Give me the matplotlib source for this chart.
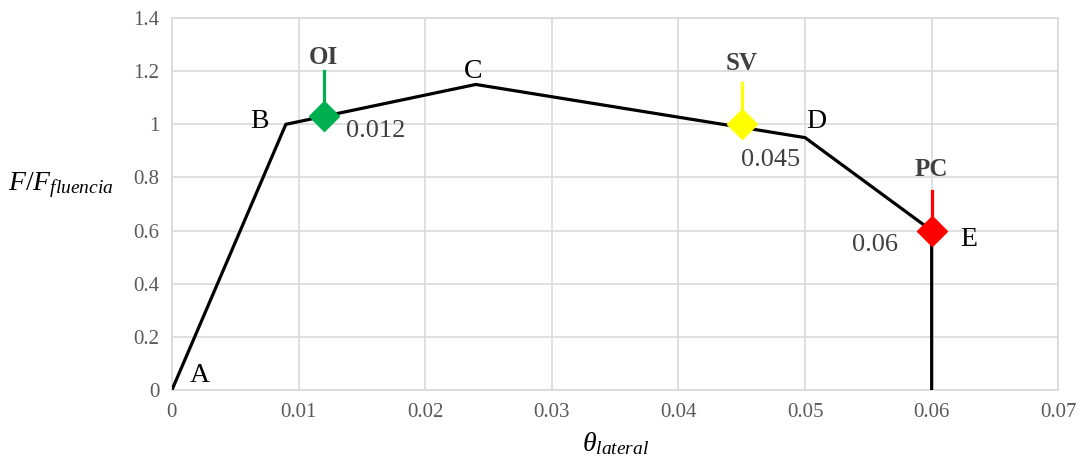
import matplotlib.pyplot as plt

plt.rcParams['font.family'] = ['Liberation Serif', 'DejaVu Serif']
plt.rcParams['mathtext.fontset'] = 'custom'
plt.rcParams['mathtext.rm'] = 'Liberation Serif'
plt.rcParams['mathtext.it'] = 'Liberation Serif:italic'
plt.rcParams['mathtext.bf'] = 'Liberation Serif:bold'

# curva de capacidad
theta = [0, 0.009, 0.024, 0.05, 0.06, 0.06]
fuerza = [0, 1.0, 1.15, 0.95, 0.6, 0]

# puntos A..E
puntos = ['A', 'B', 'C', 'D', 'E']
puntos_x = [0.0022, 0.0069, 0.0238, 0.0509, 0.0629]
puntos_y = [0.056, 1.01, 1.2, 1.01, 0.565]

# niveles de desempeno
niveles = ['OI', 'SV', 'PC']
niveles_x = [0.012, 0.045, 0.06]
niveles_y = [1.03, 1.0, 0.6]
niveles_top = [1.2, 1.155, 0.75]
niveles_color = ['#00B050', '#FFFF00', '#FF0000']
valores = ['0.012', '0.045', '0.06']
valores_x = [0.0161, 0.0473, 0.0555]
valores_y = [0.975, 0.866, 0.546]
nombres_y = [1.25, 1.227, 0.83]

fig = plt.figure(figsize=(10.81, 4.74), dpi=100)
ax = fig.add_axes([0.159, 0.177, 0.82, 0.785])

ax.plot(theta, fuerza, color='black', lw=2.3, zorder=3, solid_joinstyle='miter')

for i in range(len(niveles)):
    ax.plot([niveles_x[i], niveles_x[i]], [niveles_y[i], niveles_top[i]],
            color=niveles_color[i], lw=2.3, zorder=4)
    ax.plot(niveles_x[i], niveles_y[i], marker='D', ms=15.5,
            color=niveles_color[i], mec=niveles_color[i], zorder=5)
    ax.text(niveles_x[i], nombres_y[i], niveles[i], ha='center', va='center',
            fontsize=18, fontweight='bold', color='#404040')
    ax.text(valores_x[i], valores_y[i], valores[i], ha='center', va='center',
            fontsize=19, color='#404040')

for i in range(len(puntos)):
    ax.text(puntos_x[i], puntos_y[i], puntos[i], ha='center', va='center',
            fontsize=20, color='black')

ax.set_xlim(0, 0.07)
ax.set_ylim(0, 1.4)
ax.set_xticks([0, 0.01, 0.02, 0.03, 0.04, 0.05, 0.06, 0.07])
ax.set_xticklabels(['0', '0.01', '0.02', '0.03', '0.04', '0.05', '0.06', '0.07'])
ax.set_yticks([0, 0.2, 0.4, 0.6, 0.8, 1.0, 1.2, 1.4])
ax.set_yticklabels(['0', '0.2', '0.4', '0.6', '0.8', '1', '1.2', '1.4'])
ax.tick_params(length=0, labelsize=15, colors='#595959', pad=9)
ax.grid(True, color='#d9d9d9', lw=1.2)
ax.set_axisbelow(True)
for s in ax.spines.values():
    s.set_color('#d9d9d9')
    s.set_linewidth(1.2)

ax.set_xlabel(r'$\theta_{lateral}$', fontsize=20, color='black', labelpad=6)
ax.set_ylabel(r'$F/F_{fluencia}$', fontsize=20, color='black', rotation=0,
              va='center', ha='center')
ax.yaxis.set_label_coords(-0.125, 0.55)

fig.savefig('out.png', dpi=100)
